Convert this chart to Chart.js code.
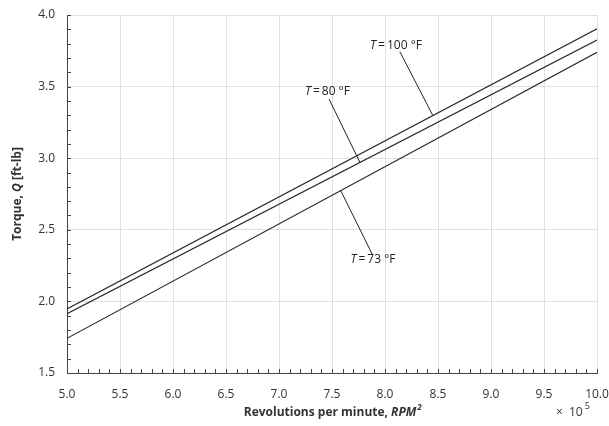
<!DOCTYPE html>
<html>
<head>
<meta charset="utf-8">
<script src="https://cdn.jsdelivr.net/npm/chart.js@4.4.1/dist/chart.umd.min.js"></script>
<style>
  html, body { margin: 0; padding: 0; background: #fff; }
  #wrap { width: 609px; height: 426px; }
</style>
</head>
<body>
<div id="wrap"><canvas id="myChart" width="609" height="426"></canvas></div>
<script>
// data (x in units of 10^5 RPM^2)
const rpm = [5.0, 10.0];
const torque73 = [1.742, 3.740];
const torque80 = [1.914, 3.825];
const torque100 = [1.947, 3.904];

const xTicks = [5.0, 5.5, 6.0, 6.5, 7.0, 7.5, 8.0, 8.5, 9.0, 9.5, 10.0];
const yTicks = [1.5, 2.0, 2.5, 3.0, 3.5, 4.0];

// label text, label position, leader line start -> end (data units)
const labelTemps = ["100", "80", "73"];
const labelPos = [[8.104, 3.785], [7.457, 3.462], [7.887, 2.289]];
const leaderFrom = [[8.14, 3.744], [7.472, 3.413], [7.88, 2.329]];
const leaderTo = [[8.45, 3.30], [7.764, 2.97], [7.582, 2.774]];

const FONT = "'Open Sans', 'Noto Sans', sans-serif";
const ink = "#333";

function toPoints(xs, ys) {
  return xs.map((x, i) => ({ x: x, y: ys[i] }));
}

function makeSet(ys) {
  return {
    data: toPoints(rpm, ys),
    borderColor: "#2b2b2b",
    borderWidth: 1.2,
    pointRadius: 0,
    fill: false,
    tension: 0
  };
}

// draws piecewise text (normal / italic / bold parts) starting at x
function drawParts(ctx, parts, x, y, size) {
  let cx = x;
  parts.forEach(p => {
    ctx.font = (p.italic ? "italic " : "") + (p.bold ? "bold " : "") + size + "px " + FONT;
    ctx.fillText(p.t, cx, y);
    cx += ctx.measureText(p.t).width;
  });
  return cx - x;
}
function partsWidth(ctx, parts, size) {
  let w = 0;
  parts.forEach(p => {
    ctx.font = (p.italic ? "italic " : "") + (p.bold ? "bold " : "") + size + "px " + FONT;
    w += ctx.measureText(p.t).width;
  });
  return w;
}

const extras = {
  id: "extras",
  afterDraw(chart) {
    const ctx = chart.ctx;
    const xs = chart.scales.x, ys = chart.scales.y;
    const area = chart.chartArea;
    ctx.save();

    // inward minor/major ticks
    ctx.strokeStyle = "#444";
    ctx.lineWidth = 1;
    ctx.beginPath();
    for (let i = 0; i <= 50; i++) {
      const px = Math.round(xs.getPixelForValue(5 + i * 0.1)) + 0.5;
      ctx.moveTo(px, area.bottom);
      ctx.lineTo(px, area.bottom - 4);
    }
    for (let i = 0; i <= 25; i++) {
      const py = Math.round(ys.getPixelForValue(1.5 + i * 0.1)) + 0.5;
      ctx.moveTo(area.left, py);
      ctx.lineTo(area.left + 4, py);
    }
    ctx.stroke();

    // leader lines
    ctx.strokeStyle = "#222";
    ctx.lineWidth = 1;
    ctx.beginPath();
    for (let i = 0; i < leaderFrom.length; i++) {
      ctx.moveTo(xs.getPixelForValue(leaderFrom[i][0]), ys.getPixelForValue(leaderFrom[i][1]));
      ctx.lineTo(xs.getPixelForValue(leaderTo[i][0]), ys.getPixelForValue(leaderTo[i][1]));
    }
    ctx.stroke();

    // curve labels (thin spaces around "=")
    ctx.fillStyle = "#222";
    ctx.textBaseline = "middle";
    ctx.textAlign = "left";
    for (let i = 0; i < labelTemps.length; i++) {
      const parts = [{ t: "T", italic: true }, { t: "\u2009=\u2009" + labelTemps[i] + " °F" }];
      const w = partsWidth(ctx, parts, 12);
      const px = xs.getPixelForValue(labelPos[i][0]) - w / 2;
      const py = ys.getPixelForValue(labelPos[i][1]);
      drawParts(ctx, parts, px, py, 12);
    }

    // x axis title
    ctx.fillStyle = ink;
    const xt = [{ t: "Revolutions per minute, ", bold: true }, { t: "RPM", bold: true, italic: true }];
    const xw = partsWidth(ctx, xt, 12);
    const xStart = (area.left + area.right) / 2 - xw / 2 - 2;
    drawParts(ctx, xt, xStart, 413, 12);
    ctx.font = "italic bold 8px " + FONT;
    ctx.fillText("2", xStart + xw + 1, 408);

    // x10^5 multiplier
    ctx.font = "12px " + FONT;
    ctx.fillText("×", 556, 413);
    ctx.fillText("10", 569, 413);
    const tw = ctx.measureText("10").width;
    ctx.font = "9px " + FONT;
    ctx.fillText("5", 569 + tw + 2, 406);

    // y axis title
    ctx.save();
    ctx.translate(18, (area.top + area.bottom) / 2);
    ctx.rotate(-Math.PI / 2);
    const yt = [{ t: "Torque, ", bold: true }, { t: "Q", bold: true, italic: true }, { t: " [ft-lb]", bold: true }];
    const yw = partsWidth(ctx, yt, 12);
    drawParts(ctx, yt, -yw / 2, 0, 12);
    ctx.restore();

    ctx.restore();
  }
};

const mychart = document.getElementById("myChart").getContext("2d");
new Chart(mychart, {
  type: "line",
  data: {
    datasets: [makeSet(torque73), makeSet(torque80), makeSet(torque100)]
  },
  options: {
    responsive: false,
    animation: false,
    events: [],
    layout: { padding: { top: 15, right: 12, left: 0, bottom: 0 } },
    plugins: {
      legend: { display: false },
      tooltip: { enabled: false }
    },
    scales: {
      x: {
        type: "linear",
        min: 5, max: 10,
        afterBuildTicks: s => { s.ticks = xTicks.map(v => ({ value: v })); },
        afterFit: s => { s.height = 53; s.paddingLeft = 0; s.paddingRight = 0; },
        ticks: {
          color: ink,
          font: { family: FONT, size: 12 },
          padding: 14,
          maxRotation: 0,
          callback: v => v.toFixed(1)
        },
        grid: { color: "#e0e0e0", lineWidth: 1, drawTicks: false },
        border: { color: "#444", width: 1 }
      },
      y: {
        min: 1.5, max: 4.0,
        afterBuildTicks: s => { s.ticks = yTicks.map(v => ({ value: v })); },
        afterFit: s => { s.width = 67; s.paddingTop = 0; s.paddingBottom = 0; },
        ticks: {
          color: ink,
          font: { family: FONT, size: 12 },
          padding: 12,
          callback: v => v.toFixed(1)
        },
        grid: { color: "#e0e0e0", lineWidth: 1, drawTicks: false },
        border: { color: "#444", width: 1 }
      }
    }
  },
  plugins: [extras]
});
</script>
</body>
</html>
